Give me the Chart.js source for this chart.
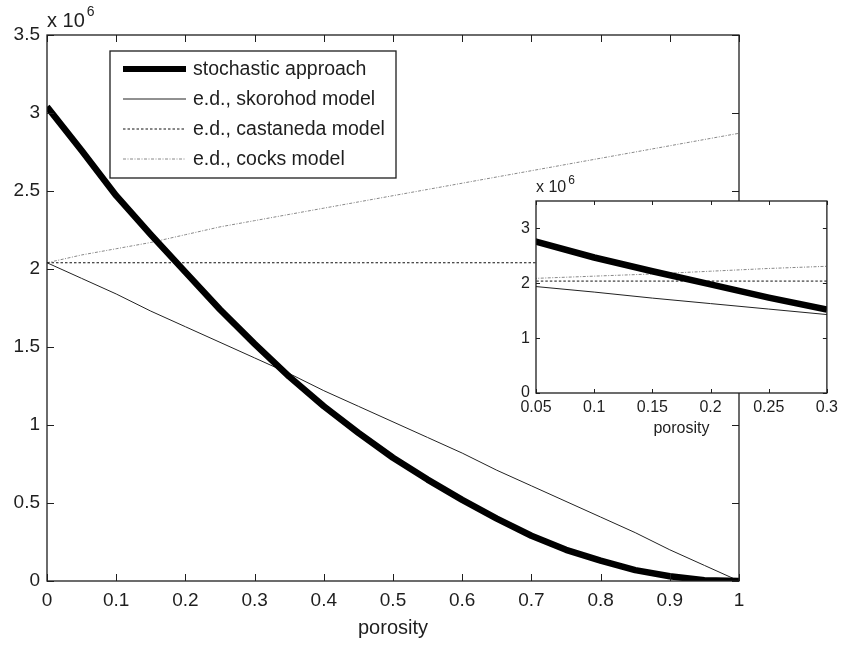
<!DOCTYPE html>
<html>
<head>
<meta charset="utf-8">
<script src="https://cdn.jsdelivr.net/npm/chart.js@4.4.0/dist/chart.umd.min.js"></script>
<style>
  html, body { margin: 0; padding: 0; background: #fff; }
  #wrap { position: relative; width: 843px; height: 645px; }
  #main { position: absolute; left: 0; top: 0; }
  #inset { position: absolute; left: 490px; top: 175px; }
</style>
</head>
<body>
<div id="wrap">
  <canvas id="main" width="843" height="645"></canvas>
  <canvas id="inset" width="353" height="270"></canvas>
</div>
<script>
// datos (valores en unidades de 10^6)
var porosity   = [0, 0.05, 0.1, 0.15, 0.2, 0.25, 0.3, 0.35, 0.4, 0.45, 0.5, 0.55, 0.6, 0.65, 0.7, 0.75, 0.8, 0.85, 0.9, 0.95, 1];
var stochastic = [3.04, 2.76, 2.47, 2.22, 1.98, 1.74, 1.52, 1.31, 1.12, 0.95, 0.79, 0.65, 0.52, 0.40, 0.29, 0.20, 0.13, 0.07, 0.03, 0.005, 0];
var skorohod   = [2.04, 1.94, 1.84, 1.73, 1.63, 1.53, 1.43, 1.33, 1.22, 1.12, 1.02, 0.92, 0.82, 0.71, 0.61, 0.51, 0.41, 0.31, 0.20, 0.10, 0];
var castaneda  = [2.04, 2.04, 2.04, 2.04, 2.04, 2.04, 2.04, 2.04, 2.04, 2.04, 2.04, 2.04, 2.04, 2.04, 2.04, 2.04, 2.04, 2.04, 2.04, 2.04, 2.04];
var cocks      = [2.04, 2.09, 2.13, 2.17, 2.22, 2.27, 2.31, 2.35, 2.39, 2.43, 2.47, 2.51, 2.55, 2.59, 2.63, 2.67, 2.71, 2.75, 2.79, 2.83, 2.87];
var seriesNames = ['stochastic approach', 'e.d., skorohod model', 'e.d., castaneda model', 'e.d., cocks model'];
var insetYTicks = [0, 1, 2, 3];
var xLabel = 'porosity';
var exponentText = 'x 10';
var exponentSup = '6';

var FONT = "'Liberation Sans', Arial, sans-serif";
var INK = '#1e1e1e';

function puntos(ys) { //Convierto los arrays en pares x,y
  return porosity.map(function (x, i) { return { x: x, y: ys[i] }; });
}

function makeDatasets() {
  return [
    { label: seriesNames[0], data: puntos(stochastic), borderColor: '#000', borderWidth: 6.5, legendWidth: 6, borderDash: [] },
    { label: seriesNames[1], data: puntos(skorohod), borderColor: '#222', borderWidth: 1, borderDash: [] },
    { label: seriesNames[2], data: puntos(castaneda), borderColor: '#111', borderWidth: 1, borderDash: [2.5, 2] },
    { label: seriesNames[3], data: puntos(cocks), borderColor: '#888', borderWidth: 1, borderDash: [3, 1.5, 1, 1.5] }
  ].map(function (d) {
    d.pointRadius = 0; d.fill = false; d.tension = 0; d.clip = 0; d.borderJoinStyle = 'round';
    return d;
  });
}

function fmt(v) { return String(Math.round(v * 100) / 100); }

// caja, ticks hacia dentro, exponente y leyenda
var boxPlugin = {
  id: 'box',
  beforeDatasetsDraw: function (chart, args, opts) {
    if (opts.fillArea) {
      var a = chart.chartArea, ctx = chart.ctx;
      ctx.save(); ctx.fillStyle = '#fff';
      ctx.fillRect(a.left, a.top, a.right - a.left, a.bottom - a.top);
      ctx.restore();
    }
  },
  afterDatasetsDraw: function (chart, args, opts) {
    var a = chart.chartArea, ctx = chart.ctx;
    var xs = chart.scales.x, ys = chart.scales.y, len = opts.tickLen;
    ctx.save();
    ctx.strokeStyle = INK; ctx.lineWidth = 1;
    ctx.beginPath();
    xs.ticks.forEach(function (t) {
      var p = Math.round(xs.getPixelForValue(t.value)) + 0.5;
      ctx.moveTo(p, a.bottom); ctx.lineTo(p, a.bottom - len);
      ctx.moveTo(p, a.top); ctx.lineTo(p, a.top + len);
    });
    ys.ticks.forEach(function (t) {
      var p = Math.round(ys.getPixelForValue(t.value)) + 0.5;
      ctx.moveTo(a.left, p); ctx.lineTo(a.left + len, p);
      ctx.moveTo(a.right, p); ctx.lineTo(a.right - len, p);
    });
    ctx.stroke();
    ctx.lineWidth = 1.3;
    ctx.strokeRect(a.left, a.top, a.right - a.left, a.bottom - a.top);

    // exponente
    ctx.fillStyle = INK;
    ctx.textBaseline = 'middle'; ctx.textAlign = 'left';
    ctx.font = opts.expSize + 'px ' + FONT;
    ctx.fillText(exponentText, a.left, a.top - opts.expDy);
    var w = ctx.measureText(exponentText).width;
    ctx.font = Math.round(opts.expSize * 0.72) + 'px ' + FONT;
    ctx.fillText(exponentSup, a.left + w + 2, a.top - opts.expDy - opts.expSize * 0.45);

    if (opts.legend) {
      var L = opts.legend;
      ctx.fillStyle = '#fff';
      ctx.fillRect(L.x, L.y, L.w, L.h);
      ctx.lineWidth = 1.3; ctx.strokeStyle = INK;
      ctx.strokeRect(L.x, L.y, L.w, L.h);
      ctx.font = L.size + 'px ' + FONT;
      chart.data.datasets.forEach(function (d, i) {
        var cy = L.y + L.first + i * L.gap;
        ctx.save();
        ctx.strokeStyle = d.borderColor;
        ctx.lineWidth = d.legendWidth || d.borderWidth;
        ctx.setLineDash(d.borderDash || []);
        ctx.beginPath();
        ctx.moveTo(L.x + 13, cy); ctx.lineTo(L.x + 76, cy);
        ctx.stroke();
        ctx.restore();
        ctx.fillStyle = INK;
        ctx.textBaseline = 'middle';
        ctx.fillText(d.label, L.x + 83, cy + 1);
      });
    }
    ctx.restore();
  }
};

Chart.defaults.font.family = FONT;
Chart.defaults.color = INK;

// grafica principal
new Chart(document.getElementById('main'), {
  type: 'line',
  data: { datasets: makeDatasets() },
  plugins: [boxPlugin],
  options: {
    responsive: false, animation: false, devicePixelRatio: 1,
    layout: { padding: { left: 0, top: 35, right: 104, bottom: 0 } },
    plugins: {
      legend: { display: false }, tooltip: { enabled: false },
      box: { tickLen: 7, expSize: 20, expDy: 14,
        legend: { x: 110, y: 51, w: 286, h: 127, size: 19.5, first: 18, gap: 30 } }
    },
    scales: {
      x: {
        type: 'linear', min: 0, max: 1,
        grid: { display: false, drawTicks: false }, border: { display: false },
        ticks: { stepSize: 0.1, padding: 8, maxRotation: 0, font: { size: 19 }, callback: fmt },
        title: { display: true, text: xLabel, font: { size: 20 }, padding: { top: 0, bottom: 5 } },
        afterFit: function (s) { s.height = 64; }
      },
      y: {
        min: 0, max: 3.5,
        grid: { display: false, drawTicks: false }, border: { display: false },
        ticks: { stepSize: 0.5, padding: 7, font: { size: 19 }, callback: fmt },
        afterFit: function (s) { s.width = 47; }
      }
    }
  }
});

// grafica insertada (zoom 0.05 - 0.3)
new Chart(document.getElementById('inset'), {
  type: 'line',
  data: { datasets: makeDatasets() },
  plugins: [boxPlugin],
  options: {
    responsive: false, animation: false, devicePixelRatio: 1,
    layout: { padding: { left: 0, top: 26, right: 13, bottom: 0 } },
    plugins: {
      legend: { display: false }, tooltip: { enabled: false },
      box: { fillArea: true, tickLen: 4, expSize: 16, expDy: 13 }
    },
    scales: {
      x: {
        type: 'linear', min: 0.05, max: 0.3,
        grid: { display: false, drawTicks: false }, border: { display: false },
        ticks: { stepSize: 0.05, padding: 5, maxRotation: 0, font: { size: 16 }, callback: fmt },
        title: { display: true, text: xLabel, font: { size: 16 }, padding: { top: 0, bottom: 7 } },
        afterFit: function (s) { s.height = 52; }
      },
      y: {
        min: 0, max: 3.5,
        grid: { display: false, drawTicks: false }, border: { display: false },
        ticks: { padding: 6, font: { size: 16 }, callback: fmt },
        afterBuildTicks: function (s) { s.ticks = insetYTicks.map(function (v) { return { value: v }; }); },
        afterFit: function (s) { s.width = 46; }
      }
    }
  }
});
</script>
</body>
</html>
